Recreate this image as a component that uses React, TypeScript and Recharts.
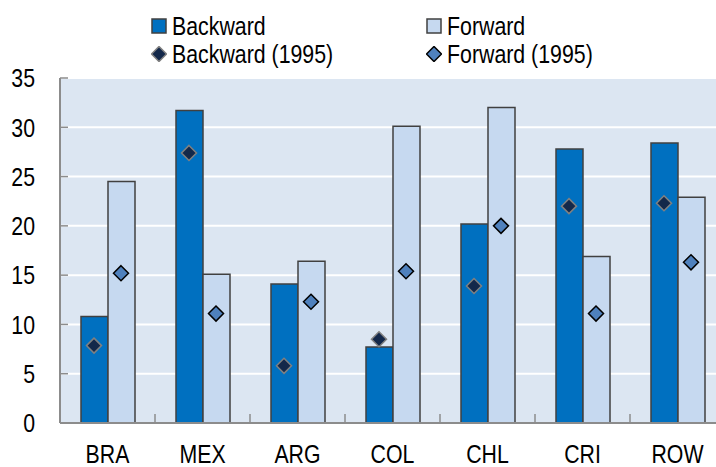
import React from "react";
import {
  ComposedChart,
  Bar,
  Scatter,
  XAxis,
  YAxis,
  CartesianGrid,
  Legend,
} from "recharts";

// countries on the x axis
const countries = ["BRA", "MEX", "ARG", "COL", "CHL", "CRI", "ROW"];
// latest values
const backward = [10.8, 31.7, 14.1, 7.7, 20.2, 27.8, 28.4];
const forward = [24.5, 15.1, 16.4, 30.1, 32.0, 16.9, 22.9];
// 1995 values (diamonds)
const backward1995 = [7.85, 27.4, 5.8, 8.5, 13.9, 22.0, 22.3];
const forward1995 = [15.2, 11.1, 12.3, 15.4, 20.0, 11.1, 16.3];
const yTicks = [0, 5, 10, 15, 20, 25, 30, 35];
const legendOrder = ["backward", "forward", "backward1995", "forward1995"];

const data = countries.map((name, i) => ({
  name,
  backward: backward[i],
  forward: forward[i],
  backward1995: backward1995[i],
  forward1995: forward1995[i],
}));

// no narrow font installed, so squeeze Liberation Sans horizontally
const FONT = "'Liberation Sans', Arial, sans-serif";
const FONT_SIZE = 26;
const SQUEEZE = 0.82;
const DARK_BLUE = "#0070C0";
const LIGHT_BLUE = "#C6D9F0";
const NAVY = "#13284A";
const MID_BLUE = "#4F81BD";
const BAR_STROKE = "#404040";
const AXIS_GREY = "#8C8C8C";

const CHART_W = 725;
const Y_AXIS_W = 60;
const BAR_W = 27;
const BAND = (CHART_W - Y_AXIS_W) / countries.length;

// diamond drawn over the middle of its bar
const makeDiamond = (fill: string, stroke: string, shift: number) => (props: any) => {
  const { cx, cy } = props;
  if (cx == null || cy == null) return null;
  const x = cx + shift;
  const r = 7.5;
  return (
    <polygon
      points={`${x},${cy - r} ${x + r},${cy} ${x},${cy + r} ${x - r},${cy}`}
      fill={fill}
      stroke={stroke}
      strokeWidth={1.5}
    />
  );
};

const XTick = (props: any) => {
  const { x, y, payload, index } = props;
  return (
    <g>
      {index < countries.length - 1 && (
        <line x1={x + BAND / 2} x2={x + BAND / 2} y1={422} y2={414} stroke={AXIS_GREY} strokeWidth={1.5} />
      )}
      <text
        transform={`translate(${x} ${y}) scale(${SQUEEZE} 1)`}
        dy="0.71em"
        textAnchor="middle"
        fontFamily={FONT}
        fontSize={FONT_SIZE}
        fill="#000"
      >
        {payload.value}
      </text>
    </g>
  );
};

const YTick = (props: any) => {
  const { x, y, payload } = props;
  return (
    <text
      transform={`translate(${x} ${y}) scale(${SQUEEZE} 1)`}
      dy="0.355em"
      textAnchor="end"
      fontFamily={FONT}
      fontSize={FONT_SIZE}
      fill="#000"
    >
      {payload.value}
    </text>
  );
};

const legendIcons: Record<string, React.ReactNode> = {
  backward: <rect x={1} y={1} width={14} height={14} fill={DARK_BLUE} stroke={BAR_STROKE} strokeWidth={1.5} />,
  forward: <rect x={1} y={1} width={14} height={14} fill={LIGHT_BLUE} stroke={BAR_STROKE} strokeWidth={1.5} />,
  backward1995: <polygon points="8,0.5 15.5,8 8,15.5 0.5,8" fill={NAVY} stroke="#808080" strokeWidth={1.5} />,
  forward1995: <polygon points="8,0.5 15.5,8 8,15.5 0.5,8" fill={MID_BLUE} stroke="#000" strokeWidth={1.5} />,
};

const LegendContent = (props: any) => {
  const items = [...(props.payload || [])].sort(
    (a: any, b: any) => legendOrder.indexOf(a.dataKey) - legendOrder.indexOf(b.dataKey)
  );
  return (
    <div
      style={{
        height: 70,
        boxSizing: "border-box",
        paddingTop: 12,
        paddingLeft: 151,
        display: "grid",
        gridTemplateColumns: "275px auto",
        gridAutoRows: "28px",
        fontFamily: FONT,
        fontSize: FONT_SIZE,
        color: "#000",
      }}
    >
      {items.map((item: any) => (
        <div key={item.dataKey} style={{ display: "flex", alignItems: "center", gap: 5 }}>
          <svg width={16} height={16}>{legendIcons[item.dataKey]}</svg>
          <span
            style={{
              lineHeight: "28px",
              display: "inline-block",
              whiteSpace: "nowrap",
              transform: `scaleX(${SQUEEZE})`,
              transformOrigin: "left center",
            }}
          >
            {item.value}
          </span>
        </div>
      ))}
    </div>
  );
};

export default function App() {
  return (
    <div style={{ position: "absolute", top: 0, left: 0, width: 716, height: 467, overflow: "hidden", background: "#fff" }}>
      <ComposedChart
        width={CHART_W}
        height={467}
        data={data}
        margin={{ top: 8, right: 0, left: 0, bottom: 0 }}
        barGap={0}
      >
        <CartesianGrid vertical={false} fill="#DCE6F2" stroke="#FFFFFF" strokeWidth={2} />
        <XAxis
          dataKey="name"
          height={44}
          tickLine={false}
          tickSize={0}
          tickMargin={22}
          axisLine={{ stroke: AXIS_GREY, strokeWidth: 2 }}
          tick={<XTick />}
          interval={0}
        />
        <YAxis
          width={Y_AXIS_W}
          domain={[0, 35]}
          ticks={yTicks}
          interval={0}
          tickSize={-8}
          tickMargin={33}
          tickLine={{ stroke: AXIS_GREY, strokeWidth: 1.5 }}
          axisLine={{ stroke: AXIS_GREY, strokeWidth: 2 }}
          tick={<YTick />}
        />
        <Legend verticalAlign="top" align="left" content={<LegendContent />} wrapperStyle={{ top: 0, left: 0, width: 716 }} />
        <Bar dataKey="backward" name="Backward" fill={DARK_BLUE} stroke={BAR_STROKE} strokeWidth={1.5} barSize={BAR_W} isAnimationActive={false} />
        <Bar dataKey="forward" name="Forward" fill={LIGHT_BLUE} stroke={BAR_STROKE} strokeWidth={1.5} barSize={BAR_W} isAnimationActive={false} />
        <Scatter dataKey="backward1995" name="Backward (1995)" fill={NAVY} shape={makeDiamond(NAVY, "#808080", -BAR_W / 2)} isAnimationActive={false} />
        <Scatter dataKey="forward1995" name="Forward (1995)" fill={MID_BLUE} shape={makeDiamond(MID_BLUE, "#000", BAR_W / 2)} isAnimationActive={false} />
      </ComposedChart>
    </div>
  );
}
